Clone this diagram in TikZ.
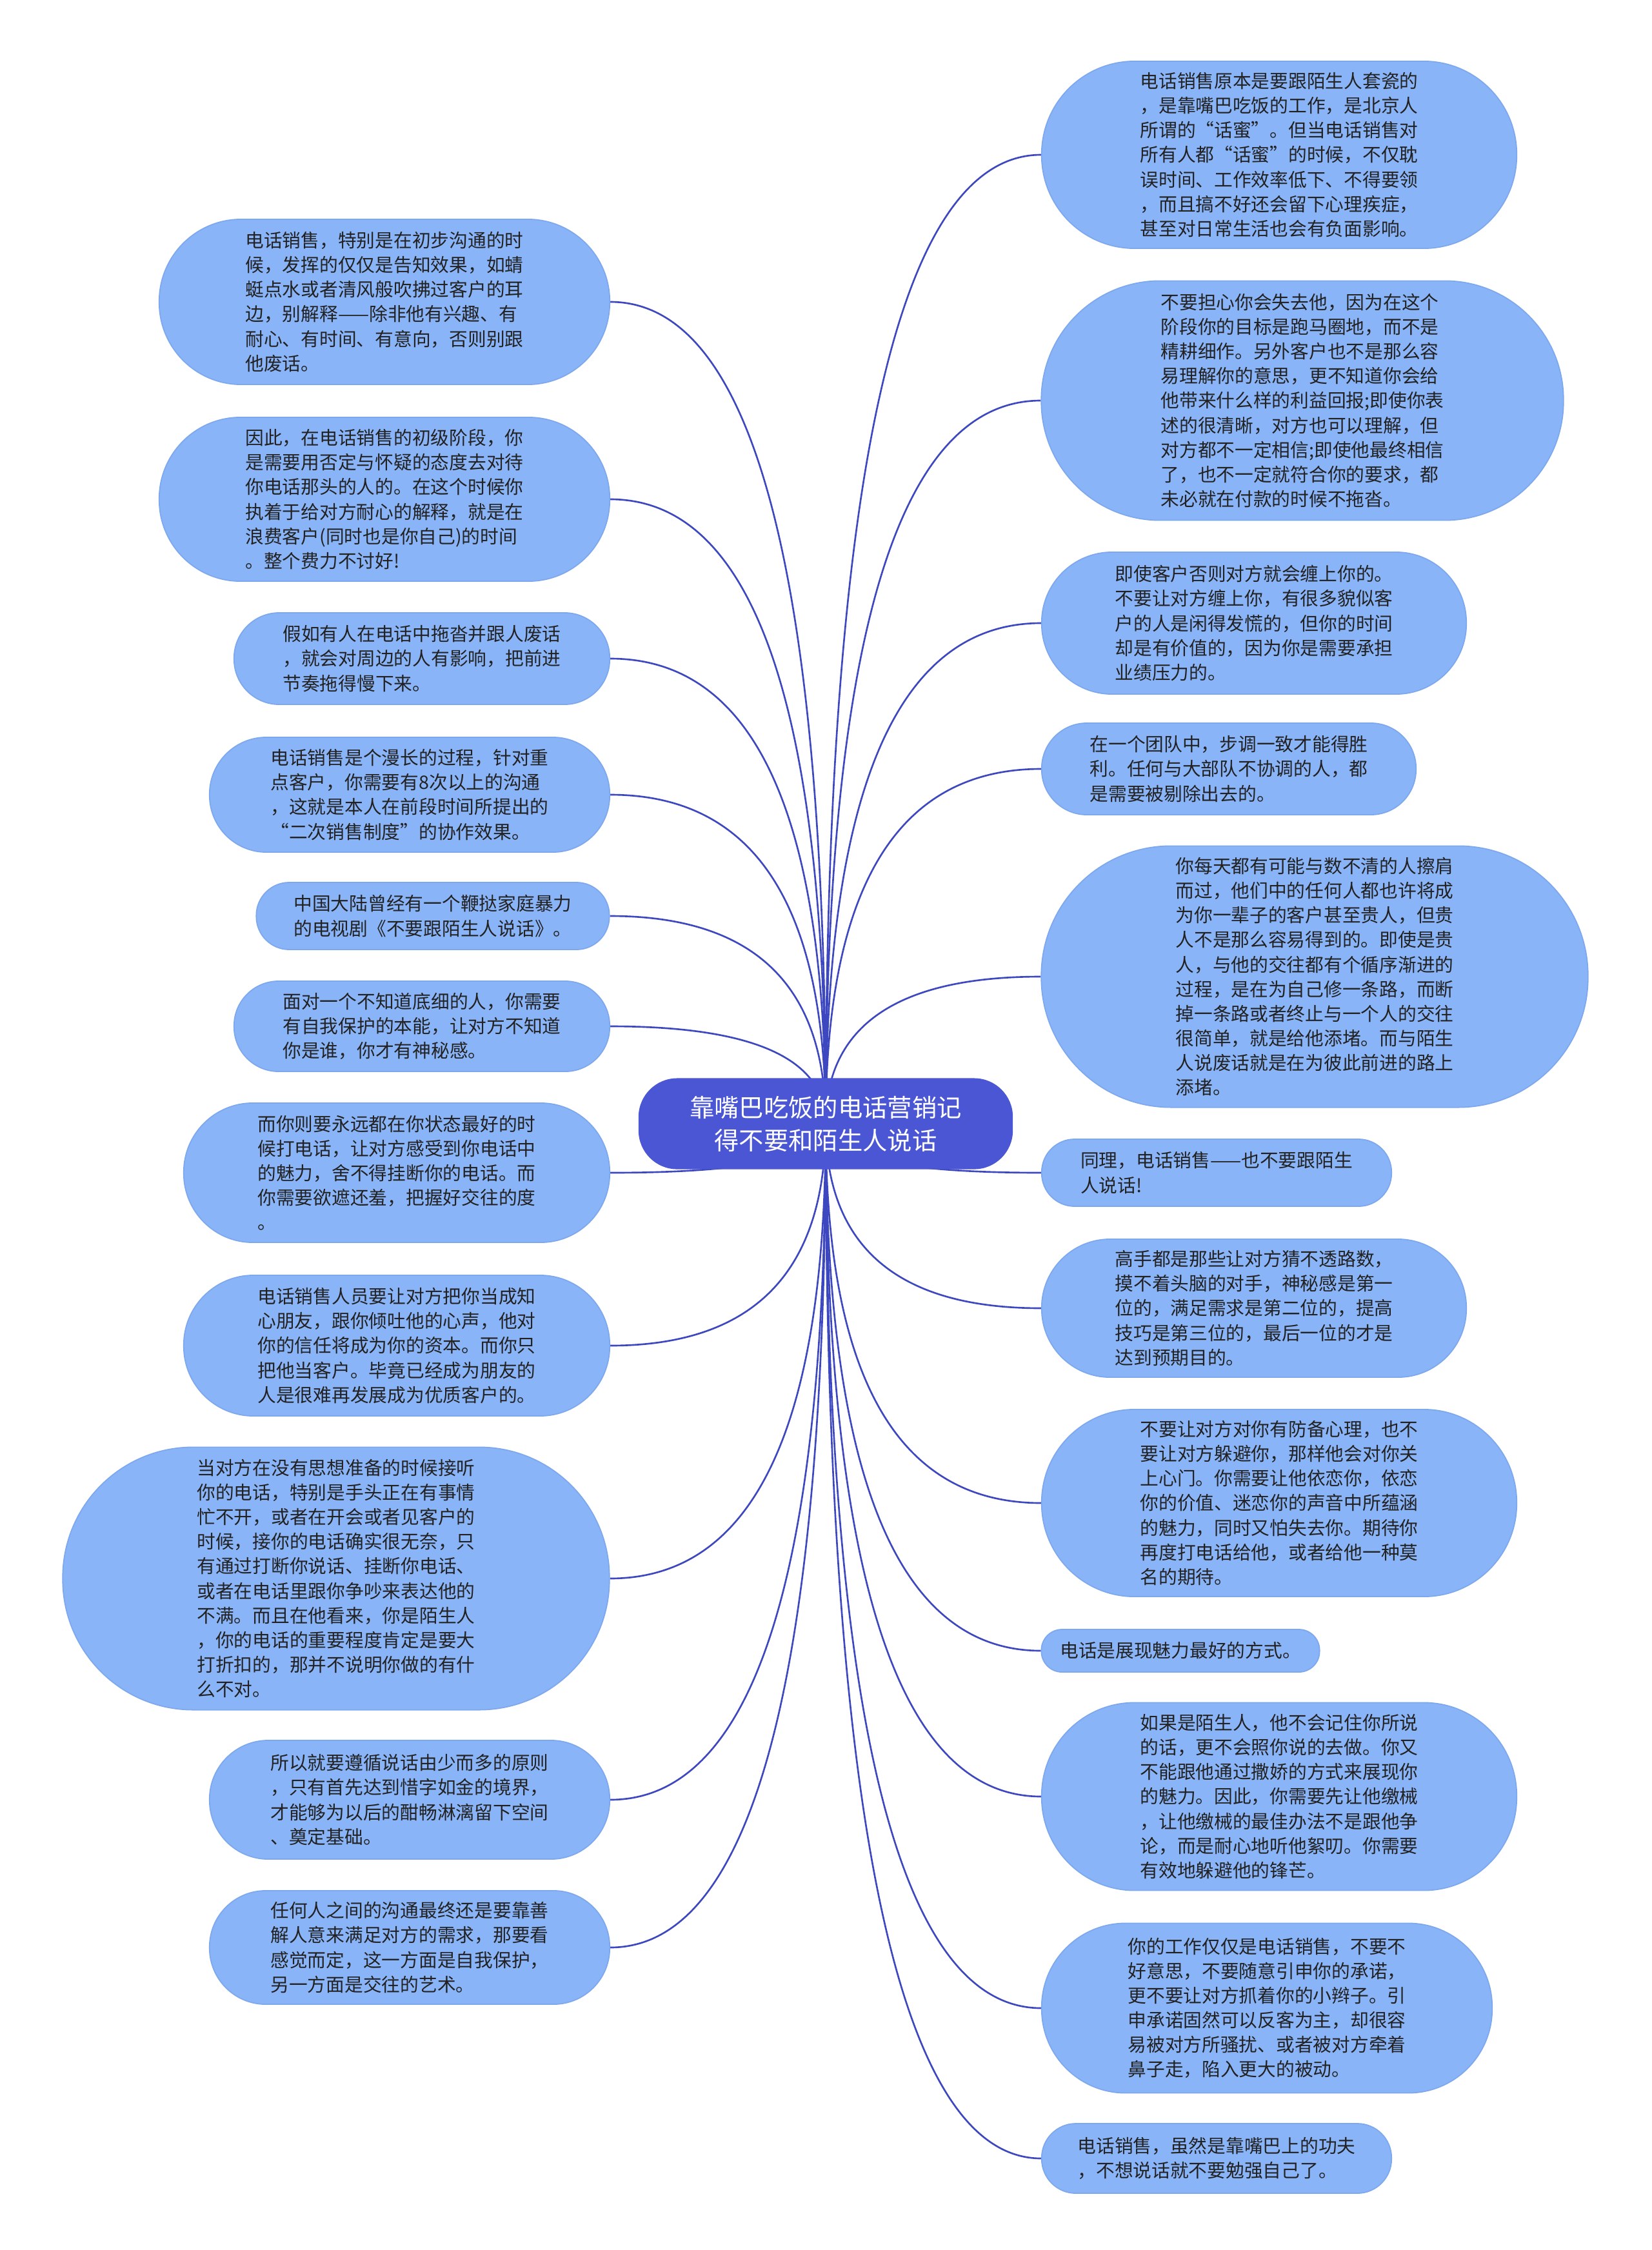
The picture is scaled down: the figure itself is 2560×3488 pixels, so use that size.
\documentclass[tikz,border=0pt]{standalone}
\usepackage{fontspec}
\setmainfont{Noto Sans CJK SC}
\usetikzlibrary{calc}
\definecolor{bfill}{HTML}{8AB4F8}
\definecolor{bedge}{HTML}{7EA8EE}
\definecolor{cfill}{HTML}{4A56D4}
\definecolor{lcol}{HTML}{3D47BF}
\definecolor{tcol}{HTML}{222222}
\pgfdeclarelayer{bg}
\pgfsetlayers{bg,main}
\tikzset{
 bub/.style={rectangle, fill=bfill, draw=bedge, line width=0.5pt, inner sep=0pt, align=left, text=tcol, font=\fontsize{8.17pt}{10.84pt}\selectfont},
 ctr/.style={rectangle, fill=cfill, draw=none, inner sep=0pt, align=center, text=white, font=\fontsize{10.9pt}{14.5pt}\selectfont, minimum width=5.8cm, minimum height=1.41cm, rounded corners=0.6cm},
 conn/.style={draw=lcol, line width=0.75pt},
}
\newcommand\toR[1]{\draw[conn] let \p1=(c.center), \p2=(#1.west) in (\p1) .. controls (\x1,{\y1+0.667*(\y2-\y1)}) and ({\x2+0.667*(\x1-\x2)},\y2) .. (\p2);}
\newcommand\toL[1]{\draw[conn] let \p1=(c.center), \p2=(#1.east) in (\p1) .. controls (\x1,{\y1+0.667*(\y2-\y1)}) and ({\x2+0.667*(\x1-\x2)},\y2) .. (\p2);}
\begin{document}
\begin{tikzpicture}[x=0.01cm,y=-0.01cm]
\useasboundingbox (0,0) rectangle (2560,3488);

\node[ctr] (c) at (1280,1742) {靠嘴巴吃饭的电话营销记\\得不要和陌生人说话};

% left column
\node[bub, minimum width=6.98cm, minimum height=2.56cm, rounded corners=1.27cm] (L1) at (596,468) {电话销售，特别是在初步沟通的时\\候，发挥的仅仅是告知效果，如蜻\\蜓点水或者清风般吹拂过客户的耳\\边，别解释——除非他有兴趣、有\\耐心、有时间、有意向，否则别跟\\他废话。};
\node[bub, minimum width=6.98cm, minimum height=2.54cm, rounded corners=1.26cm] (L2) at (596,774) {因此，在电话销售的初级阶段，你\\是需要用否定与怀疑的态度去对待\\你电话那头的人的。在这个时候你\\执着于给对方耐心的解释，就是在\\浪费客户(同时也是你自己)的时间\\。整个费力不讨好!};
\node[bub, minimum width=5.82cm, minimum height=1.42cm, rounded corners=0.70cm] (L3) at (654,1021) {假如有人在电话中拖沓并跟人废话\\，就会对周边的人有影响，把前进\\节奏拖得慢下来。};
\node[bub, minimum width=6.20cm, minimum height=1.78cm, rounded corners=0.88cm] (L4) at (635,1232) {电话销售是个漫长的过程，针对重\\点客户，你需要有8次以上的沟通\\，这就是本人在前段时间所提出的\\“二次销售制度”的协作效果。};
\node[bub, minimum width=5.47cm, minimum height=1.04cm, rounded corners=0.51cm] (L5) at (671,1420) {中国大陆曾经有一个鞭挞家庭暴力\\的电视剧《不要跟陌生人说话》。};
\node[bub, minimum width=5.82cm, minimum height=1.40cm, rounded corners=0.69cm] (L6) at (654,1591) {面对一个不知道底细的人，你需要\\有自我保护的本能，让对方不知道\\你是谁，你才有神秘感。};
\node[bub, minimum width=6.60cm, minimum height=2.16cm, rounded corners=1.07cm] (L7) at (615,1818) {而你则要永远都在你状态最好的时\\候打电话，让对方感受到你电话中\\的魅力，舍不得挂断你的电话。而\\你需要欲遮还羞，把握好交往的度\\。};
\node[bub, minimum width=6.60cm, minimum height=2.18cm, rounded corners=1.08cm] (L8) at (615,2086) {电话销售人员要让对方把你当成知\\心朋友，跟你倾吐他的心声，他对\\你的信任将成为你的资本。而你只\\把他当客户。毕竟已经成为朋友的\\人是很难再发展成为优质客户的。};
\node[bub, minimum width=8.47cm, minimum height=4.07cm, rounded corners=2.02cm] (L9) at (521,2447) {当对方在没有思想准备的时候接听\\你的电话，特别是手头正在有事情\\忙不开，或者在开会或者见客户的\\时候，接你的电话确实很无奈，只\\有通过打断你说话、挂断你电话、\\或者在电话里跟你争吵来表达他的\\不满。而且在他看来，你是陌生人\\，你的电话的重要程度肯定是要大\\打折扣的，那并不说明你做的有什\\么不对。};
\node[bub, minimum width=6.20cm, minimum height=1.84cm, rounded corners=0.91cm] (L10) at (635,2790) {所以就要遵循说话由少而多的原则\\，只有首先达到惜字如金的境界，\\才能够为以后的酣畅淋漓留下空间\\、奠定基础。};
\node[bub, minimum width=6.20cm, minimum height=1.76cm, rounded corners=0.87cm] (L11) at (635,3019) {任何人之间的沟通最终还是要靠善\\解人意来满足对方的需求，那要看\\感觉而定，这一方面是自我保护，\\另一方面是交往的艺术。};

% right column
\node[bub, minimum width=7.36cm, minimum height=2.90cm, rounded corners=1.44cm] (R1) at (1983,240) {电话销售原本是要跟陌生人套瓷的\\，是靠嘴巴吃饭的工作，是北京人\\所谓的“话蜜”。但当电话销售对\\所有人都“话蜜”的时候，不仅耽\\误时间、工作效率低下、不得要领\\，而且搞不好还会留下心理疾症，\\甚至对日常生活也会有负面影响。};
\node[bub, minimum width=8.09cm, minimum height=3.71cm, rounded corners=1.84cm] (R2) at (2019,621) {不要担心你会失去他，因为在这个\\阶段你的目标是跑马圈地，而不是\\精耕细作。另外客户也不是那么容\\易理解你的意思，更不知道你会给\\他带来什么样的利益回报;即使你表\\述的很清晰，对方也可以理解，但\\对方都不一定相信;即使他最终相信\\了，也不一定就符合你的要求，都\\未必就在付款的时候不拖沓。};
\node[bub, minimum width=6.58cm, minimum height=2.20cm, rounded corners=1.09cm] (R3) at (1944,966) {即使客户否则对方就会缠上你的。\\不要让对方缠上你，有很多貌似客\\户的人是闲得发慌的，但你的时间\\却是有价值的，因为你是需要承担\\业绩压力的。};
\node[bub, minimum width=5.80cm, minimum height=1.42cm, rounded corners=0.70cm] (R4) at (1905,1192) {在一个团队中，步调一致才能得胜\\利。任何与大部队不协调的人，都\\是需要被剔除出去的。};
\node[bub, minimum width=8.47cm, minimum height=4.05cm, rounded corners=2.01cm] (R5) at (2038,1514) {你每天都有可能与数不清的人擦肩\\而过，他们中的任何人都也许将成\\为你一辈子的客户甚至贵人，但贵\\人不是那么容易得到的。即使是贵\\人，与他的交往都有个循序渐进的\\过程，是在为自己修一条路，而断\\掉一条路或者终止与一个人的交往\\很简单，就是给他添堵。而与陌生\\人说废话就是在为彼此前进的路上\\添堵。};
\node[bub, minimum width=5.42cm, minimum height=1.04cm, rounded corners=0.51cm] (R6) at (1886,1818) {同理，电话销售——也不要跟陌生\\人说话!};
\node[bub, minimum width=6.58cm, minimum height=2.14cm, rounded corners=1.06cm] (R7) at (1944,2028) {高手都是那些让对方猜不透路数，\\摸不着头脑的对手，神秘感是第一\\位的，满足需求是第二位的，提高\\技巧是第三位的，最后一位的才是\\达到预期目的。};
\node[bub, minimum width=7.36cm, minimum height=2.90cm, rounded corners=1.44cm] (R8) at (1983,2330) {不要让对方对你有防备心理，也不\\要让对方躲避你，那样他会对你关\\上心门。你需要让他依恋你，依恋\\你的价值、迷恋你的声音中所蕴涵\\的魅力，同时又怕失去你。期待你\\再度打电话给他，或者给他一种莫\\名的期待。};
\node[bub, minimum width=4.31cm, minimum height=0.66cm, rounded corners=0.32cm] (R9) at (1830,2559) {电话是展现魅力最好的方式。};
\node[bub, minimum width=7.36cm, minimum height=2.91cm, rounded corners=1.44cm] (R10) at (1983,2785) {如果是陌生人，他不会记住你所说\\的话，更不会照你说的去做。你又\\不能跟他通过撒娇的方式来展现你\\的魅力。因此，你需要先让他缴械\\，让他缴械的最佳办法不是跟他争\\论，而是耐心地听他絮叨。你需要\\有效地躲避他的锋芒。};
\node[bub, minimum width=6.98cm, minimum height=2.63cm, rounded corners=1.30cm] (R11) at (1964,3113) {你的工作仅仅是电话销售，不要不\\好意思，不要随意引申你的承诺，\\更不要让对方抓着你的小辫子。引\\申承诺固然可以反客为主，却很容\\易被对方所骚扰、或者被对方牵着\\鼻子走，陷入更大的被动。};
\node[bub, minimum width=5.42cm, minimum height=1.08cm, rounded corners=0.53cm] (R12) at (1886,3346) {电话销售，虽然是靠嘴巴上的功夫\\，不想说话就不要勉强自己了。};

\begin{pgfonlayer}{bg}
\fill[white] (0,0) rectangle (2560,3488);
\toL{L1}\toL{L2}\toL{L3}\toL{L4}\toL{L5}\toL{L6}\toL{L7}\toL{L8}\toL{L9}\toL{L10}\toL{L11}
\toR{R1}\toR{R2}\toR{R3}\toR{R4}\toR{R5}\toR{R6}\toR{R7}\toR{R8}\toR{R9}\toR{R10}\toR{R11}\toR{R12}
\end{pgfonlayer}
\end{tikzpicture}
\end{document}
